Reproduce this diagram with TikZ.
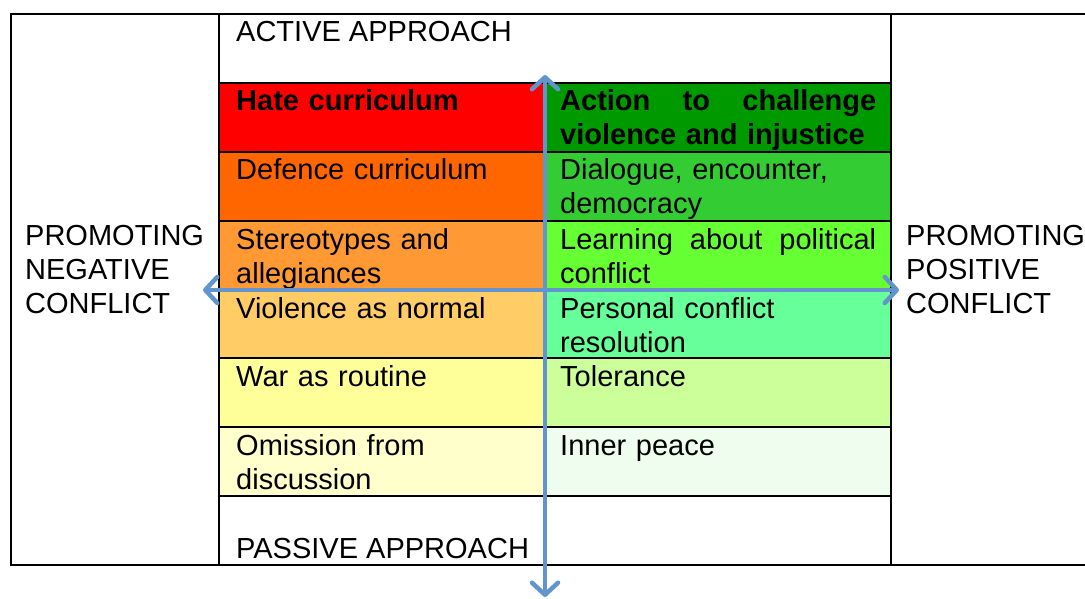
\documentclass[tikz,border=0pt]{standalone}
\usepackage{fontspec}
\setmainfont{Liberation Sans}
\usetikzlibrary{arrows.meta}
\definecolor{hate}{HTML}{FF0000}
\definecolor{defence}{HTML}{FF6600}
\definecolor{stereo}{HTML}{FF9933}
\definecolor{violence}{HTML}{FFCC66}
\definecolor{war}{HTML}{FFFF99}
\definecolor{omission}{HTML}{FFFFCC}
\definecolor{action}{HTML}{009900}
\definecolor{dialogue}{HTML}{33CC33}
\definecolor{learning}{HTML}{66FF33}
\definecolor{personal}{HTML}{66FF99}
\definecolor{tolerance}{HTML}{CCFF99}
\definecolor{inner}{HTML}{EEFDEE}
\definecolor{axisblue}{RGB}{98,148,206}
\begin{document}
\begin{tikzpicture}[x=1pt,y=-1pt,
  cellline/.style={draw=black,line width=1.6pt},
  txt/.style={anchor=base west,inner sep=0pt,font=\fontsize{29}{34}\selectfont,align=left},
  ltxt/.style={txt,text width=300pt},
  rtxt/.style={txt,text width=316pt},
  sidetxt/.style={txt,text width=190pt},
  axisline/.style={draw=axisblue,line width=4.5pt,line cap=round,
    {Straight Barb[length=12pt,width=26pt,round]}-{Straight Barb[length=12pt,width=26pt,round]}}]
\useasboundingbox (0,0) rectangle (1085,599);
% fills
\fill[hate] (219,83) rectangle (545,152);
\fill[defence] (219,152) rectangle (545,221);
\fill[stereo] (219,221) rectangle (545,290);
\fill[violence] (219,290) rectangle (545,358);
\fill[war] (219,358) rectangle (545,427);
\fill[omission] (219,427) rectangle (545,496);
\fill[action] (545,83) rectangle (891,152);
\fill[dialogue] (545,152) rectangle (891,221);
\fill[learning] (545,221) rectangle (891,290);
\fill[personal] (545,290) rectangle (891,358);
\fill[tolerance] (545,358) rectangle (891,427);
\fill[inner] (545,427) rectangle (891,496);
% grid lines
\begin{scope}
\clip (0,0) rectangle (1085,599);
\draw[cellline,line width=2pt] (11,14) rectangle (1095,565);
\end{scope}
\draw[cellline,line width=2pt] (219,14) -- (219,565);
\draw[cellline,line width=2pt] (891,14) -- (891,565);
\draw[cellline] (545,83) -- (545,496);
\foreach \yy in {83,152,221,290,358,427,496}
  \draw[cellline] (219,\yy) -- (891,\yy);
% texts
\node[txt] (active) at (236,42) {ACTIVE APPROACH};
\node[ltxt] (hatec) at (236,111) {\textbf{Hate curriculum}};
\node[ltxt] (defc) at (236,180) {Defence curriculum};
\node[ltxt] (stereoc) at (236,249) {Stereotypes and\\allegiances};
\node[ltxt] (violc) at (236,318) {Violence as normal};
\node[ltxt] (warc) at (236,386) {War as routine};
\node[ltxt] (omitc) at (236,455) {Omission from\\discussion};
\node[txt] (passive) at (236,558) {PASSIVE APPROACH};
\node[rtxt] (actc) at (560,111) {\textbf{Action\hfill to\hfill challenge}\\\textbf{violence and injustice}};
\node[rtxt] (dialc) at (560,180) {Dialogue, encounter,\\democracy};
\node[rtxt] (learnc) at (560,249) {Learning\hfill about\hfill political\\conflict};
\node[rtxt] (persc) at (560,318) {Personal conflict\\resolution};
\node[rtxt] (tolc) at (560,386) {Tolerance};
\node[rtxt] (innc) at (560,455) {Inner peace};
\node[sidetxt] (negl) at (25,245) {PROMOTING\\NEGATIVE\\CONFLICT};
\node[sidetxt] (posl) at (906,245) {PROMOTING\\POSITIVE\\CONFLICT};
% axes
\coordinate (axL) at (203,290);
\coordinate (axR) at (899,290);
\coordinate (axT) at (545,75);
\coordinate (axB) at (545,597);
\draw[axisline] (axL) -- (axR);
\draw[axisline] (axB) -- (axT);
\end{tikzpicture}
\end{document}
